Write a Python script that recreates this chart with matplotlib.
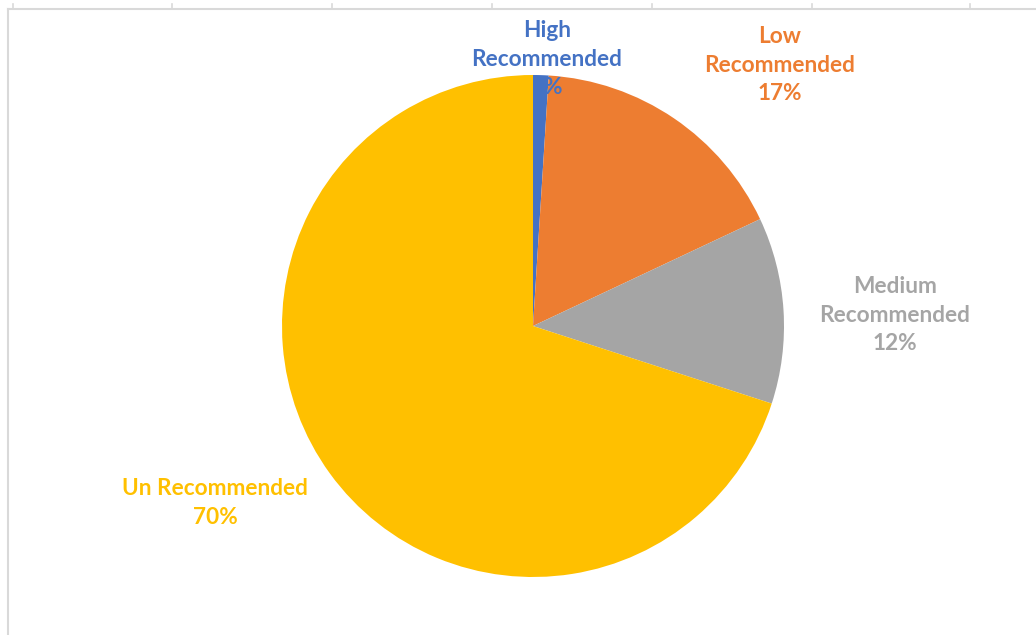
import matplotlib
matplotlib.use("Agg")
import matplotlib.pyplot as plt

categories = ['High\nRecommended', 'Low\nRecommended', 'Medium\nRecommended', 'Un Recommended']
shares = [1, 17, 12, 70]
colors = ['#4472C4', '#ED7D31', '#A5A5A5', '#FFC000']

W, H = 1036, 635
# label anchor points in pixel coords (x, y from top)
label_pos = [(547, 59), (780, 65), (895, 315), (215, 503)]

plt.rcParams['font.family'] = ['Lato', 'DejaVu Sans']

fig = plt.figure(figsize=(W / 100, H / 100), dpi=100)
ax = fig.add_axes([0, 0, 1, 1])

ax.pie(shares, colors=colors, startangle=90, counterclock=False,
       center=(533, H - 326), radius=251,
       wedgeprops=dict(linewidth=0))

for cat, val, col, (x, y) in zip(categories, shares, colors, label_pos):
    ax.text(x, H - y, f'{cat}\n{val}%', color=col, fontsize=16.3, fontweight='bold',
            ha='center', va='center', linespacing=1.45)

# worksheet gridlines framing the chart
grid = '#D9D9D9'
ax.plot([8, W], [H - 9, H - 9], color=grid, lw=1.5)
ax.plot([8, 8], [H - 9, 0], color=grid, lw=1.5)
for tx in [13, 172, 332, 492, 652, 812, 970]:
    ax.plot([tx, tx], [H - 9, H - 4], color=grid, lw=1.2)

ax.set_xlim(0, W)
ax.set_ylim(0, H)
ax.set_aspect('equal')
ax.axis('off')

fig.savefig('out.png', dpi=100, facecolor='white')
